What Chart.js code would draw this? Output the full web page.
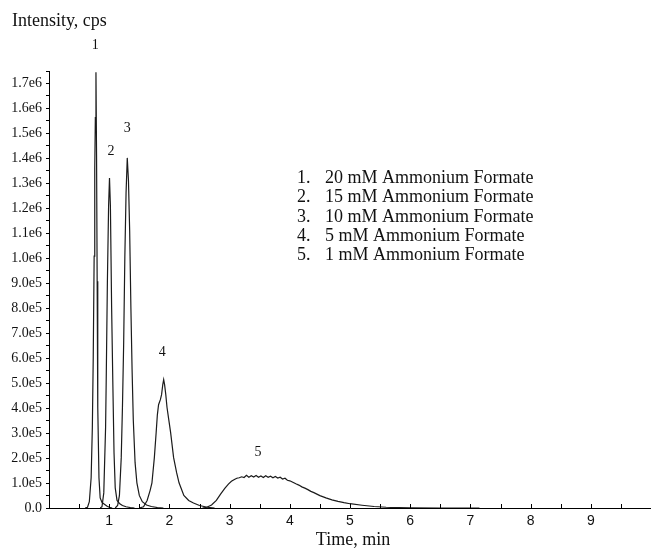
<!DOCTYPE html>
<html>
<head>
<meta charset="utf-8">
<script src="https://cdn.jsdelivr.net/npm/chart.js@4.4.1/dist/chart.umd.min.js"></script>
<style>
  html, body { margin: 0; padding: 0; background: #fff; }
  #box { width: 651px; height: 551px; }
</style>
</head>
<body>
<div id="box"><canvas id="chromChart"></canvas></div>
<script>
'use strict';

// Data (time in min, intensity in cps)
var peak1Time = [0.60, 0.64, 0.67, 0.70, 0.72, 0.735, 0.75, 0.76, 0.77, 0.78, 0.79, 0.80, 0.81, 0.83, 0.85, 0.88, 0.92, 0.96, 1.00, 1.05];
var peak1Int = [0, 3e3, 2.5e4, 1.2e5, 3.2e5, 6e5, 1.0e6, 1.35e6, 1.55e6, 1.73e6, 1.4e6, 9e5, 4e5, 1.2e5, 4e4, 2.2e4, 1.5e4, 8e3, 3e3, 0];

var peak2Time = [0.85, 0.88, 0.91, 0.94, 0.95, 0.97, 0.99, 1.005, 1.02, 1.04, 1.06, 1.08, 1.10, 1.13, 1.17, 1.22, 1.28, 1.35, 1.42];
var peak2Int = [0, 5e3, 6e4, 3.2e5, 5e5, 9e5, 1.2e6, 1.31e6, 1.2e6, 8e5, 5e5, 2.2e5, 8e4, 3e4, 1.8e4, 1e4, 5e3, 2e3, 0];

var peak3Time = [1.10, 1.14, 1.17, 1.20, 1.22, 1.24, 1.26, 1.28, 1.30, 1.32, 1.34, 1.36, 1.38, 1.40, 1.43, 1.46, 1.50, 1.55, 1.62, 1.70, 1.80, 1.90];
var peak3Int = [0, 1e4, 5e4, 2e5, 4e5, 6.5e5, 1.0e6, 1.25e6, 1.39e6, 1.3e6, 1.1e6, 8e5, 5.5e5, 3.5e5, 1.8e5, 1e5, 5e4, 2.5e4, 1.2e4, 6e3, 2e3, 0];

var peak4Time = [1.50, 1.57, 1.63, 1.68, 1.71, 1.75, 1.78, 1.80, 1.82, 1.85, 1.87, 1.89, 1.905, 1.92, 1.94, 1.96, 1.99, 2.02, 2.07, 2.12, 2.16, 2.24, 2.32, 2.40, 2.50, 2.63, 2.75];
var peak4Int = [0, 5e3, 3e4, 7e4, 1e5, 2e5, 3e5, 3.7e5, 4.1e5, 4.3e5, 4.5e5, 4.9e5, 5.1e5, 4.9e5, 4.5e5, 4e5, 3.5e5, 3e5, 2e5, 1.4e5, 1e5, 5e4, 3e4, 2e4, 1e4, 3e3, 0];

var peak5Time = [2.55, 2.62, 2.70, 2.78, 2.85, 2.92, 2.98, 3.03, 3.08, 3.12, 3.16, 3.20, 3.24, 3.28, 3.32, 3.36, 3.40, 3.44, 3.48, 3.52, 3.56, 3.60, 3.64, 3.68, 3.72, 3.76, 3.80, 3.84, 3.88, 3.92, 3.96, 4.00, 4.05, 4.10, 4.15, 4.20, 4.25, 4.30, 4.35, 4.40, 4.45, 4.50, 4.60, 4.70, 4.80, 4.90, 5.00, 5.20, 5.40, 5.60, 5.80, 6.00, 6.50, 7.15];
var peak5Int = [0, 3e3, 1.2e4, 3e4, 5.5e4, 7.8e4, 9.5e4, 1.06e5, 1.13e5, 1.18e5, 1.2e5, 1.24e5, 1.21e5, 1.3e5, 1.22e5, 1.28e5, 1.23e5, 1.29e5, 1.22e5, 1.27e5, 1.21e5, 1.28e5, 1.22e5, 1.26e5, 1.2e5, 1.25e5, 1.19e5, 1.22e5, 1.15e5, 1.18e5, 1.1e5, 1.08e5, 1.02e5, 9.6e4, 9.1e4, 8.4e4, 7.9e4, 7.3e4, 6.6e4, 6.1e4, 5.5e4, 4.9e4, 4.0e4, 3.2e4, 2.6e4, 2.1e4, 1.7e4, 1.1e4, 6e3, 3e3, 1.5e3, 5e2, 0, 0];

// peak numbers, placed in data units
var peakLabels = ['1', '2', '3', '4', '5'];
var peakLabelTime = [0.77, 1.03, 1.30, 1.88, 3.47];
var peakLabelInt = [1.836e6, 1.415e6, 1.507e6, 6.19e5, 2.22e5];

var legendLines = ['20 mM Ammonium Formate', '15 mM Ammonium Formate', '10 mM Ammonium Formate', '5 mM Ammonium Formate', '1 mM Ammonium Formate'];

var xMin = 0;
var xMax = 10;
var yMin = 0;
var yMax = 1.735e6;

var serif = '"Liberation Serif", "Times New Roman", serif';

function toPoints(times, values) {
  var pts = [];
  for (var i = 0; i < times.length; i++) {
    pts.push({ x: times[i], y: values[i] });
  }
  return pts;
}

function makeDataset(times, values) {
  return {
    data: toPoints(times, values),
    borderColor: '#1b1b1b',
    borderWidth: 1.2,
    pointRadius: 0,
    tension: 0,
    fill: false
  };
}

// texts + inward x ticks
var annotationPlugin = {
  id: 'annotations',
  afterDraw: function(chart) {
    var ctx = chart.ctx;
    var xs = chart.scales.x;
    var ys = chart.scales.y;
    var area = chart.chartArea;
    ctx.save();

    // x tick marks pointing up into the plot
    ctx.strokeStyle = '#000';
    ctx.lineWidth = 1;
    for (var t = 0.5; t < xMax; t += 0.5) {
      var px = Math.round(xs.getPixelForValue(t)) + 0.5;
      ctx.beginPath();
      ctx.moveTo(px, area.bottom);
      ctx.lineTo(px, area.bottom - 4);
      ctx.stroke();
    }

    ctx.fillStyle = '#111';
    ctx.textBaseline = 'middle';

    ctx.font = '18px ' + serif;
    ctx.textAlign = 'left';
    ctx.fillText('Intensity, cps', 12, 21);
    ctx.textAlign = 'center';
    ctx.fillText('Time, min', 353, 540);

    ctx.font = '14px ' + serif;
    for (var i = 0; i < peakLabels.length; i++) {
      ctx.fillText(peakLabels[i], xs.getPixelForValue(peakLabelTime[i]), ys.getPixelForValue(peakLabelInt[i]));
    }

    ctx.font = '18px ' + serif;
    ctx.textAlign = 'left';
    for (var j = 0; j < legendLines.length; j++) {
      var ly = 178 + j * 19.4;
      ctx.fillText((j + 1) + '.', 297, ly);
      ctx.fillText(legendLines[j], 325, ly);
    }
    ctx.restore();
  }
};

var ctx = document.getElementById('chromChart').getContext('2d');
var chromChart = new Chart(ctx, { //eslint-disable-line
  type: 'line',
  data: {
    datasets: [
      makeDataset(peak1Time, peak1Int),
      makeDataset(peak2Time, peak2Int),
      makeDataset(peak3Time, peak3Int),
      makeDataset(peak4Time, peak4Int),
      makeDataset(peak5Time, peak5Int)
    ]
  },
  options: {
    responsive: true,
    maintainAspectRatio: false,
    animation: false,
    layout: { padding: { top: 71, right: 0, left: 0, bottom: 0 } },
    plugins: {
      legend: { display: false },
      tooltip: { enabled: false }
    },
    scales: {
      x: {
        type: 'linear',
        min: xMin,
        max: xMax,
        afterFit: function(scale) {
          scale.height = 43;
          scale.paddingLeft = 0;
          scale.paddingRight = 0;
        },
        border: { display: true, color: '#000', width: 1 },
        grid: { display: false, drawTicks: false },
        ticks: {
          stepSize: 1,
          padding: 5,
          maxRotation: 0,
          color: '#111',
          font: { family: '"Liberation Sans", Arial, sans-serif', size: 14 },
          callback: function(v) {
            if (v <= 0 || v >= 10) return '';
            return String(v);
          }
        }
      },
      y: {
        type: 'linear',
        min: yMin,
        max: yMax,
        afterFit: function(scale) {
          scale.width = 49;
          scale.paddingTop = 0;
          scale.paddingBottom = 0;
        },
        border: { display: true, color: '#000', width: 1 },
        grid: { drawOnChartArea: false, drawTicks: true, tickLength: 3, color: '#000' },
        ticks: {
          stepSize: 5e4,
          includeBounds: false,
          autoSkip: false,
          padding: 4,
          color: '#111',
          font: { family: serif, size: 14 },
          callback: function(v) {
            var n = Math.round(v / 5e4);
            if (n === 0) return '0.0';
            if (n % 2 !== 0) return '';
            return (n * 5e4).toExponential(1).replace('e+', 'e');
          }
        }
      }
    }
  },
  plugins: [annotationPlugin]
});
</script>
</body>
</html>
